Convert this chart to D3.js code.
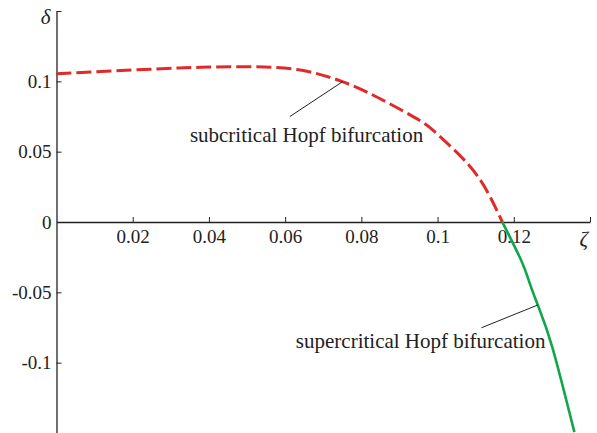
<!DOCTYPE html>
<html>
<head>
<meta charset="utf-8">
<script src="https://cdn.jsdelivr.net/npm/d3@7"></script>
<style>
  body { margin: 0; background: #fff; }
  .axis path, .axis line { stroke: #222; }
</style>
</head>
<body>
<div id="chart"></div>
<script>
var serif = '"Liberation Serif", "Times New Roman", serif';

// subcritical branch (dashed red)
var subZeta  = [0, 0.013, 0.026, 0.038, 0.051, 0.064, 0.075, 0.083, 0.090, 0.0953, 0.0987, 0.1039, 0.111, 0.117];
var subDelta = [0.1053, 0.1072, 0.1088, 0.1100, 0.1104, 0.1080, 0.0998, 0.0903, 0.0803, 0.0722, 0.0655, 0.0525, 0.0307, 0];
// supercritical branch (solid green)
var supZeta  = [0.117, 0.1219, 0.1239, 0.1263, 0.1301, 0.1359];
var supDelta = [0, -0.027, -0.0413, -0.059, -0.0889, -0.1494];

var xTicks = [0.02, 0.04, 0.06, 0.08, 0.1, 0.12];
var xTickLabels = ["0.02", "0.04", "0.06", "0.08", "0.1", "0.12"];
var yTicks = [0.1, 0.05, 0, -0.05, -0.1];
var yTickLabels = ["0.1", "0.05", "0", "-0.05", "-0.1"];

var width = 597, height = 433;

var svg = d3.select("#chart").append("svg")
  .attr("width", width)
  .attr("height", height);

var x = d3.scaleLinear().domain([0, 0.14]).range([56.5, 590]);
var y = d3.scaleLinear().domain([-0.15, 0.15]).range([433, 11]);

// x axis through delta = 0, ticks pointing up
var xAxis = d3.axisBottom(x)
  .tickValues(xTicks.concat([0.14]))
  .tickSizeInner(-5)
  .tickSizeOuter(0)
  .tickPadding(7)
  .tickFormat(function(d) {
    var i = xTicks.indexOf(d);
    return i < 0 ? "" : xTickLabels[i];
  });

var gx = svg.append("g")
  .attr("class", "axis")
  .attr("transform", "translate(0," + y(0) + ")")
  .call(xAxis);
gx.selectAll("text")
  .style("font-family", serif)
  .style("font-size", "19px")
  .attr("fill", "#222")
  .attr("dy", "0.74em");
gx.select(".domain").attr("stroke-width", 1.3);
gx.selectAll(".tick line").attr("stroke", "#555");

// y axis at zeta = 0, ticks pointing right
var yAxis = d3.axisLeft(y)
  .tickValues(yTicks.concat([0.15]))
  .tickSizeInner(-5)
  .tickSizeOuter(0)
  .tickPadding(5)
  .tickFormat(function(d) {
    var i = yTicks.indexOf(d);
    return i < 0 ? "" : yTickLabels[i];
  });

var gy = svg.append("g")
  .attr("class", "axis")
  .attr("transform", "translate(" + x(0) + ",0)")
  .call(yAxis);
gy.selectAll("text")
  .style("font-family", serif)
  .style("font-size", "19px")
  .attr("fill", "#222");
gy.select(".domain").attr("stroke-width", 1.3);
gy.selectAll(".tick line").attr("stroke", "#555");
// the zero label sits left of the origin, no tick there
gy.selectAll(".tick").filter(function(d) { return d === 0; }).select("line").remove();

// axis titles
svg.append("text")
  .attr("x", x(0) - 6)
  .attr("y", y(0.15) + 13)
  .attr("text-anchor", "end")
  .style("font-family", serif)
  .style("font-size", "21px")
  .style("font-style", "italic")
  .attr("fill", "#222")
  .text("δ");

svg.append("text")
  .attr("x", x(0.14) - 2)
  .attr("y", y(0) + 24)
  .attr("text-anchor", "end")
  .style("font-family", serif)
  .style("font-size", "21px")
  .style("font-style", "italic")
  .attr("fill", "#222")
  .text("ζ");

var line = d3.line()
  .x(function(d) { return x(d[0]); })
  .y(function(d) { return y(d[1]); })
  .curve(d3.curveNatural);

svg.append("path")
  .datum(d3.zip(subZeta, subDelta))
  .attr("fill", "none")
  .attr("stroke", "#e02a2a")
  .attr("stroke-width", 3)
  .attr("stroke-dasharray", "15,5")
  .attr("d", line);

svg.append("path")
  .datum(d3.zip(supZeta, supDelta))
  .attr("fill", "none")
  .attr("stroke", "#12a64a")
  .attr("stroke-width", 2.6)
  .attr("d", line);

// annotations
var notes = [
  { text: "subcritical Hopf bifurcation", from: [0.0751, 0.0998], to: [0.0612, 0.0749], at: [0.0350, 0.0571], anchor: "start" },
  { text: "supercritical Hopf bifurcation", from: [0.1263, -0.059], to: [0.1115, -0.0752], at: [0.1283, -0.0896], anchor: "end" }
];

notes.forEach(function(n) {
  svg.append("line")
    .attr("x1", x(n.from[0])).attr("y1", y(n.from[1]))
    .attr("x2", x(n.to[0])).attr("y2", y(n.to[1]))
    .attr("stroke", "#222")
    .attr("stroke-width", 1);
  svg.append("text")
    .attr("x", x(n.at[0]))
    .attr("y", y(n.at[1]))
    .attr("text-anchor", n.anchor)
    .style("font-family", serif)
    .style("font-size", "21px")
    .attr("fill", "#222")
    .text(n.text);
});
</script>
</body>
</html>
